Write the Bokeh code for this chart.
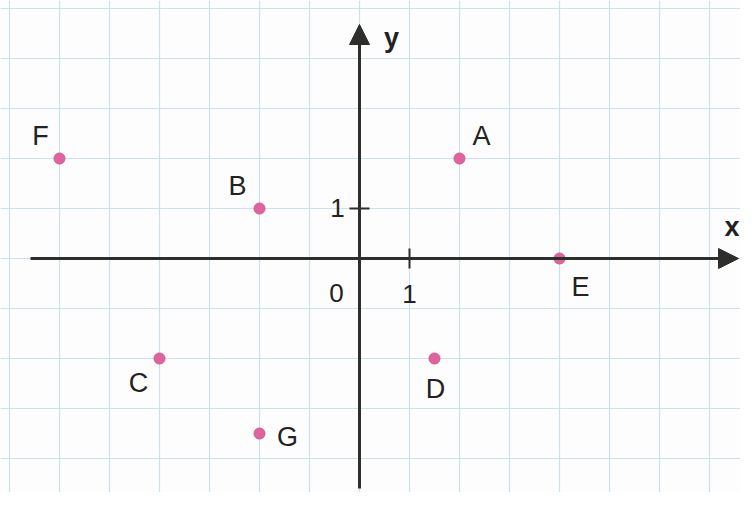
from bokeh.plotting import figure
from bokeh.models import Range1d, Grid, FixedTicker, Arrow, NormalHead, ColumnDataSource
from bokeh.core.properties import value
from bokeh.embed import file_html
from bokeh.resources import INLINE

# Data
point_names = ["A", "B", "C", "D", "E", "F", "G"]
point_x = [2, -2, -4, 1.5, 4, -6, -2]
point_y = [2, 1, -2, -2, 0, 2, -3.5]
# label offsets in screen pixels (dx right, dy down)
label_dx = [22, -22, -21, 1, 21, -19, 28]
label_dy = [-23, -23, 24, 30, 28, -23, 3]

grid_x = list(range(-7, 9))
grid_y = list(range(-5, 6))
x_axis_extent = [-6.58, 7.58]
y_axis_extent = [-4.6, 4.68]
tick_labels = ["1", "0", "1"]
tick_label_x = [0, 0, 1]
tick_label_y = [1, 0, 0]
tick_dx = [-22, -23, 0]
tick_dy = [-1, 34, 35]

W, H = 740, 492
p = figure(width=W, height=H, output_backend="svg", toolbar_location=None,
           x_range=Range1d(-7.18, 7.62), y_range=Range1d(-4.68, 5.16),
           x_axis_location=None, y_axis_location=None, min_border=0)
p.background_fill_color = "#fdfdfd"
p.border_fill_color = "#fdfdfd"
p.outline_line_color = None
p.xgrid.visible = False
p.ygrid.visible = False

gx = Grid(dimension=0, ticker=FixedTicker(ticks=grid_x), grid_line_color="#cde2e8", grid_line_width=1.2)
gy = Grid(dimension=1, ticker=FixedTicker(ticks=grid_y), grid_line_color="#cde2e8", grid_line_width=1.2)
p.add_layout(gx)
p.add_layout(gy)

axis_color = "#2e2e2c"
p.add_layout(Arrow(end=NormalHead(size=20, fill_color=axis_color, line_color=axis_color),
                   x_start=x_axis_extent[0], y_start=0, x_end=x_axis_extent[1], y_end=0,
                   line_color=axis_color, line_width=3))
p.add_layout(Arrow(end=NormalHead(size=20, fill_color=axis_color, line_color=axis_color),
                   x_start=0, y_start=y_axis_extent[0], x_end=0, y_end=y_axis_extent[1],
                   line_color=axis_color, line_width=3))

# unit ticks
p.segment(x0=[1, -0.2], y0=[-0.2, 1], x1=[1, 0.2], y1=[0.2, 1], line_color=axis_color, line_width=2)

# tick labels
p.text(x=tick_label_x, y=tick_label_y, text=tick_labels, x_offset=tick_dx, y_offset=tick_dy,
       text_align="center", text_baseline="middle", text_font=value("Liberation Sans"),
       text_font_size="26px", text_color="#222222")

# axis names
p.text(x=[0.64, 7.45], y=[4.42, 0.64], text=["y", "x"], text_align="center", text_baseline="middle",
       text_font=value("Liberation Sans"), text_font_style="bold", text_font_size="27px",
       text_color="#222222")

src = ColumnDataSource(dict(x=point_x, y=point_y, name=point_names, dx=label_dx, dy=label_dy))
p.scatter(x="x", y="y", source=src, size=11, fill_color="#e0649c", line_color="#d05590", line_width=1)
p.text(x="x", y="y", text="name", x_offset="dx", y_offset="dy", source=src,
       text_align="center", text_baseline="middle", text_font=value("Liberation Sans"),
       text_font_size="27px", text_color="#222222")

open("out.html", "w").write(file_html(p, INLINE))
